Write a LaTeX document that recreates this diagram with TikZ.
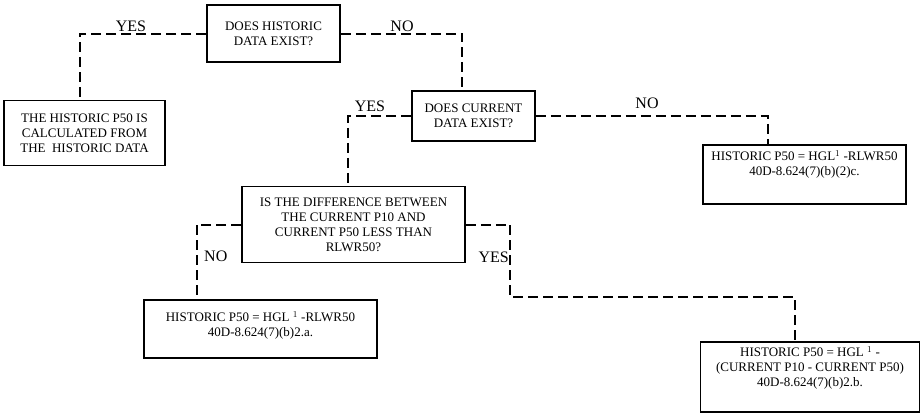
\documentclass[tikz,border=0pt]{standalone}
\usepackage{fontspec}
\setmainfont{Liberation Serif}
\usepackage{tikz}
\usetikzlibrary{positioning}

\begin{document}
\begin{tikzpicture}[x=1pt,y=-1pt,
    box/.style={draw,line width=1.6pt,align=center,inner sep=2pt,
        font=\fontsize{13}{15}\selectfont},
    inbox/.style={align=center,inner sep=0pt,font=\fontsize{13}{15}\selectfont},
    link/.style={line width=2pt,dash pattern=on 10pt off 5pt},
    lbl/.style={inner sep=1pt,font=\fontsize{16}{18}\selectfont}]
    \useasboundingbox (0,0) rectangle (921,413);

    % Decision boxes
    \node[box,minimum width=133pt,minimum height=57pt] (histq) at (273.5,33.5)
        {DOES HISTORIC\\DATA EXIST?};
    \node[box,minimum width=123pt,minimum height=50pt] (currq) at (473.5,116)
        {DOES CURRENT\\DATA EXIST?};
    \node[box,minimum width=223pt,minimum height=76pt] (diffq) at (353.5,224.5)
        {IS THE DIFFERENCE BETWEEN\\THE CURRENT P10 AND\\CURRENT P50 LESS THAN\\RLWR50?};

    % Result boxes
    \node[box,minimum width=161pt,minimum height=65pt] (calc) at (84.5,133)
        {THE HISTORIC P50 IS\\CALCULATED FROM\\THE \ HISTORIC DATA};
    \node[box,minimum width=203pt,minimum height=59pt,
        label={[inbox,anchor=north,yshift=-6pt]north:{HISTORIC P50 = HGL$^1$ -RLWR50\\40D-8.624(7)(b)(2)c.}}]
        (resc) at (804.5,174.5) {};
    \node[box,minimum width=233pt,minimum height=58pt,
        label={[inbox,anchor=north,yshift=-12pt]north:{HISTORIC P50 = HGL $^1$ -RLWR50\\40D-8.624(7)(b)2.a.}}]
        (resa) at (260.5,329) {};
    \node[box,minimum width=219pt,minimum height=70pt,
        label={[inbox,anchor=north,yshift=-5pt]north:{HISTORIC P50 = HGL $^1$ -\\(CURRENT P10 - CURRENT P50)\\40D-8.624(7)(b)2.b.}}]
        (resb) at (810,377) {};

    % Connectors
    \draw[link] (histq.west) -| ([xshift=-4.5pt]calc.north);
    \draw[link] (histq.east) -| ([xshift=-11.5pt]currq.north);
    \draw[link] (currq.west) -| ([xshift=-5.5pt]diffq.north);
    \draw[link] (currq.east) -| ([xshift=-36.5pt]resc.north);
    \draw[link] (diffq.west) -| ([xshift=-63.5pt]resa.north);
    \coordinate (turn) at (510,297);
    \draw[link] (diffq.east) -| (turn) -| ([xshift=-15pt]resb.north);

    % Branch labels
    \node[lbl,anchor=south] (yesa) at (131,33) {YES};
    \node[lbl,anchor=south] (noa) at (402,33) {NO};
    \node[lbl,anchor=south] (yesb) at (370,113) {YES};
    \node[lbl,anchor=south] (nob) at (647,110) {NO};
    \node[lbl,anchor=west] (noc) at (203,256) {NO};
    \node[lbl,anchor=east] (yesc) at (510,257) {YES};
\end{tikzpicture}
\end{document}
